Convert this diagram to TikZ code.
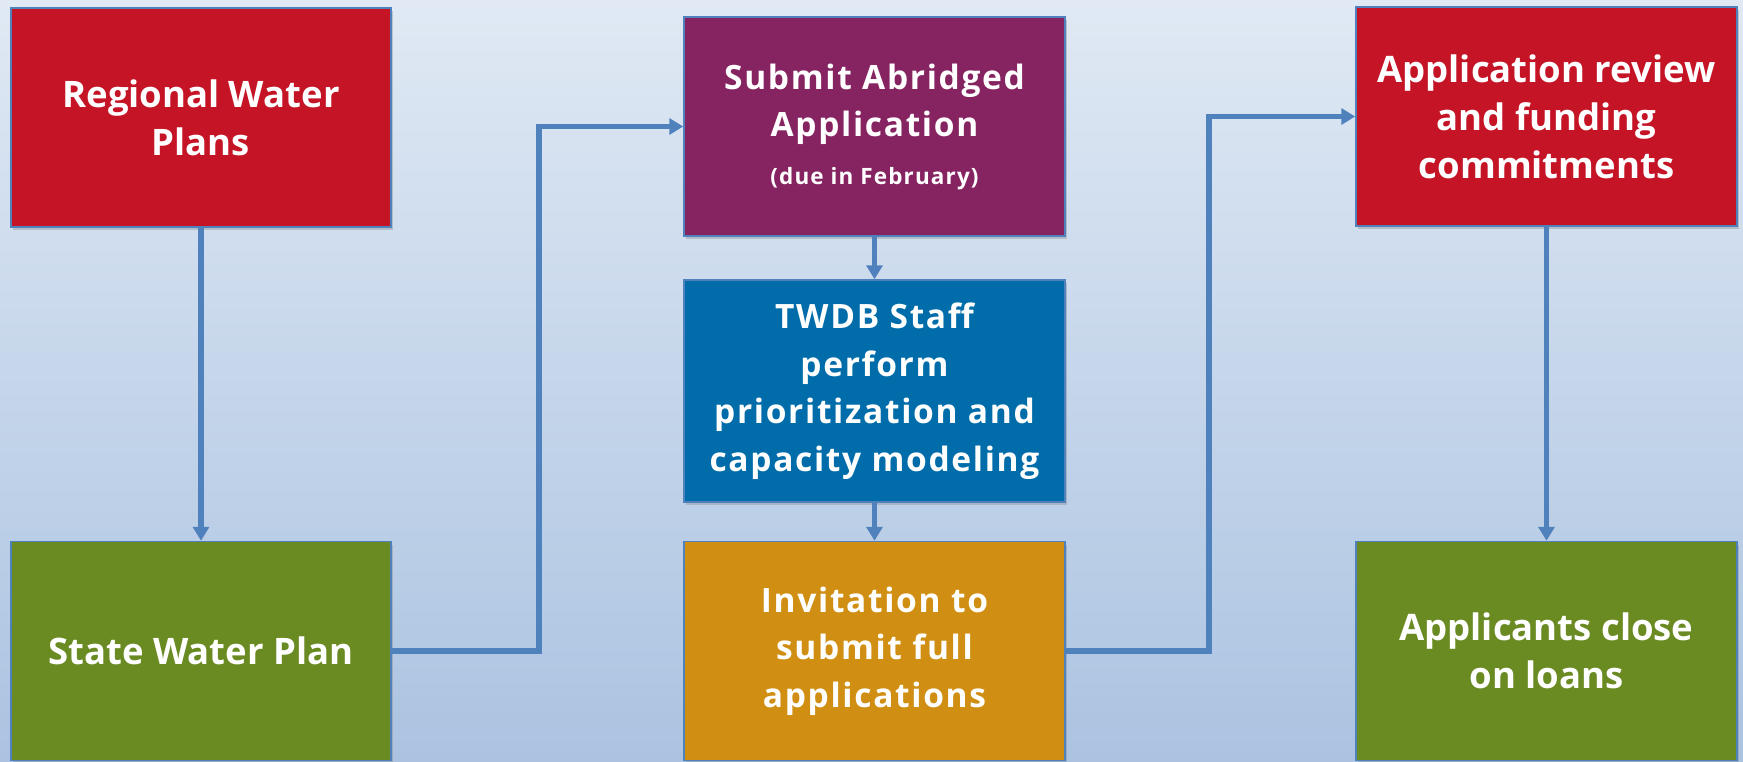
\documentclass[tikz,border=0pt]{standalone}
\usepackage{fontspec}
\setmainfont{Open Sans}
\newfontfamily\widefont[LetterSpace=5]{Open Sans}
\usetikzlibrary{arrows.meta,positioning,calc,shadows}
\definecolor{bgtop}{HTML}{E0E9F4}
\definecolor{bgbot}{HTML}{ABC3E1}
\definecolor{lnblue}{HTML}{4F81BD}
\definecolor{twred}{HTML}{C41426}
\definecolor{twgreen}{HTML}{6A8A22}
\definecolor{twpurple}{HTML}{862462}
\definecolor{twblue}{HTML}{006DAA}
\definecolor{tworange}{HTML}{D08F12}
\tikzset{box/.style={draw=lnblue,line width=1.5pt,minimum width=380pt,minimum height=219pt,align=center,
    text=white,font=\fontsize{36.5}{48}\selectfont\bfseries,inner sep=4pt,
    drop shadow={shadow xshift=2pt,shadow yshift=-3pt,opacity=0.35}},
  midbox/.style={box,minimum width=381pt,font=\widefont\fontsize{33.5}{47.5}\selectfont\bfseries},
  arr/.style={-{Triangle[length=14pt,width=16pt]},line width=5.5pt,draw=lnblue}}
\begin{document}
\begin{tikzpicture}[x=1pt,y=-1pt]
\useasboundingbox (0,0) rectangle (1743,761);
\shade[top color=bgtop,bottom color=bgbot] (0,0) rectangle (1743,761);
\node[box,fill=twred] (rwp) at (201,117.5) {Regional Water\\Plans};
\node[box,fill=twgreen] (swp) at (201,651) {State Water Plan};
\node[midbox,fill=twpurple] (sub) at (874.5,126.5) {Submit Abridged\\Application\\[0pt]{\fontsize{22.5}{30}\selectfont (due in February)}};
\node[midbox,fill=twblue,minimum height=222pt] (twdb) at (874.5,391) {TWDB Staff\\perform\\prioritization and\\capacity modeling};
\node[midbox,fill=tworange] (inv) at (874.5,651) {Invitation to\\submit full\\applications};
\node[box,fill=twred,minimum width=381pt] (rev) at (1546.5,116.5) {Application review\\and funding\\commitments};
\node[box,fill=twgreen,minimum width=381pt] (clo) at (1546.5,651) {Applicants close\\on loans};
\coordinate (k1) at (539,0);
\coordinate (k2) at (1209,0);
\draw[arr] (rwp) -- (swp);
\draw[arr] (swp.east) -- (swp.east -| k1) |- (sub.west);
\draw[arr] (sub) -- (twdb);
\draw[arr] (twdb) -- (inv);
\draw[arr] (inv.east) -- (inv.east -| k2) |- (rev.west);
\draw[arr] (rev) -- (clo);
\end{tikzpicture}
\end{document}
